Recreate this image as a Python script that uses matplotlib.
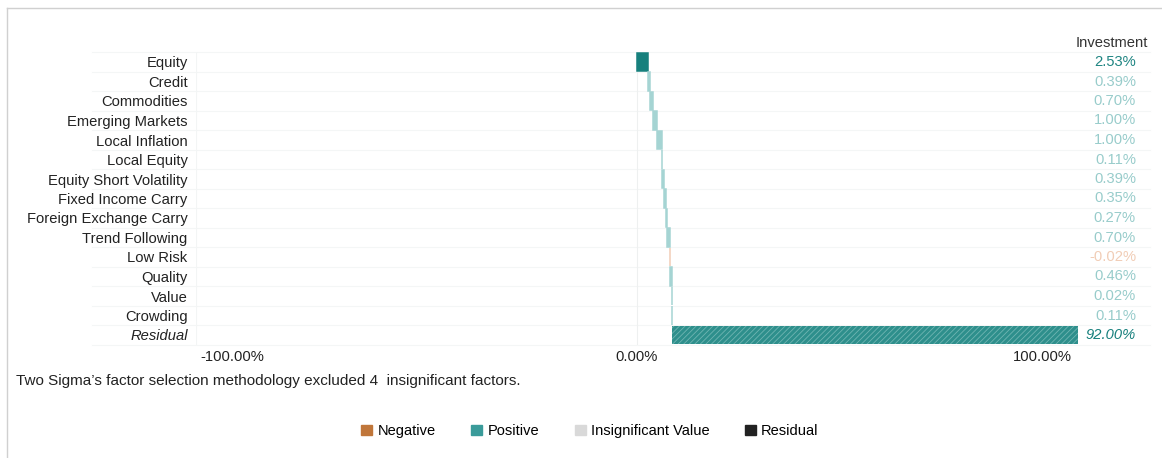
import matplotlib
matplotlib.use('Agg')
import matplotlib.pyplot as plt
import matplotlib.transforms as mtransforms
from matplotlib.patches import Patch
from matplotlib.lines import Line2D

plt.rcParams['font.family'] = ['Liberation Sans', 'DejaVu Sans']
plt.rcParams['hatch.linewidth'] = 0.6

factors = ['Equity', 'Credit', 'Commodities', 'Emerging Markets', 'Local Inflation',
           'Local Equity', 'Equity Short Volatility', 'Fixed Income Carry',
           'Foreign Exchange Carry', 'Trend Following', 'Low Risk', 'Quality',
           'Value', 'Crowding', 'Residual']
values = [2.53, 0.39, 0.70, 1.00, 1.00, 0.11, 0.39, 0.35, 0.27, 0.70, -0.02, 0.46, 0.02, 0.11, 92.00]
significant = [True] + [False] * 13 + [True]
xticks = [-100, 0, 100]

POS_DARK = '#17807d'
POS_LIGHT = '#a5d4d3'
NEG_LIGHT = '#f1cdb6'
RESID = '#2e8f8c'
FS = 10.6

fig = plt.figure(figsize=(11.62, 4.58), dpi=100)
ax = fig.add_axes([196 / 1162, 1 - 344.75 / 458, 882 / 1162, 292.5 / 458])
fig_y = mtransforms.blended_transform_factory(fig.transFigure, ax.transData)

n = len(factors)
start = 0.0
for i, (name, v, sig) in enumerate(zip(factors, values, significant)):
    if name == 'Residual':
        ax.barh(i, v, left=start, height=0.95, color=RESID, edgecolor='#6fb5b2',
                hatch='//////', linewidth=0)
        lab_color, style = POS_DARK, 'italic'
    else:
        if v < 0:
            c = NEG_LIGHT
            lab_color = NEG_LIGHT
        else:
            c = POS_DARK if sig else POS_LIGHT
            lab_color = '#1f8582' if sig else '#98cccb'
        ax.barh(i, v, left=start, height=0.95, color=c, edgecolor=c, linewidth=1.1)
        style = 'normal'
    ax.text(1136 / 1162, i, f'{v:.2f}%', transform=fig_y,
            ha='right', va='center', fontsize=FS, color=lab_color, style=style)
    start += v

fig.text(1148 / 1162, 1 - 43 / 458, 'Investment', ha='right', va='center',
         fontsize=FS, color='#333333')

# faint row separators running past the plot area
for k in range(n + 1):
    ax.add_line(Line2D([92 / 1162, 1150 / 1162], [k - 0.5, k - 0.5], transform=fig_y,
                       color='#f4f6f6', lw=0.8, clip_on=False, zorder=0))
ax.axvline(0, color='#eef0f0', lw=0.8, zorder=0)
ax.axvline(-100, color='#f3f5f5', lw=0.8, zorder=0)

ax.set_xlim(-100, 100)
ax.set_ylim(n - 0.5, -0.5)
ax.set_yticks(range(n))
ax.set_yticklabels(factors, fontsize=FS, color='#222222')
for t in ax.get_yticklabels():
    if t.get_text() == 'Residual':
        t.set_style('italic')
ax.tick_params(axis='y', length=0, pad=6)

# x tick labels: outer ones aligned inward
ax.set_xticks(xticks)
ax.set_xticklabels([])
ax.tick_params(axis='x', length=0)
xt = ax.get_xaxis_transform()
for x, ha, dx in zip(xticks, ['left', 'center', 'right'], [4, 0, -6]):
    off = mtransforms.ScaledTranslation(dx / 100, -2 / 100, fig.dpi_scale_trans)
    ax.text(x, -0.012, f'{x:.2f}%', transform=xt + off, ha=ha, va='top',
            fontsize=FS, color='#222222')
for s in ax.spines.values():
    s.set_visible(False)

fig.text(16 / 1162, 1 - 381 / 458,
         'Two Sigma\u2019s factor selection methodology excluded 4  insignificant factors.',
         fontsize=11, color='#222222', va='center')

handles = [Patch(color='#c0763a', label='Negative'),
           Patch(color='#3a9b9a', label='Positive'),
           Patch(color='#d9d9d9', label='Insignificant Value'),
           Patch(color='#222222', label='Residual')]
fig.legend(handles=handles, loc='center', bbox_to_anchor=(590 / 1162, 1 - 431 / 458),
           ncol=4, frameon=False, fontsize=10.5, handlelength=0.75, handleheight=0.75,
           handletextpad=0.35, columnspacing=2.45)

# outer frame (top and left edges)
fig.add_artist(Line2D([7 / 1162, 1.0], [1 - 8 / 458, 1 - 8 / 458], transform=fig.transFigure,
                      color='#d0d0d0', lw=1))
fig.add_artist(Line2D([7 / 1162, 7 / 1162], [1 - 8 / 458, 0], transform=fig.transFigure,
                      color='#d0d0d0', lw=1))

fig.savefig('out.png', dpi=100, facecolor='white')
